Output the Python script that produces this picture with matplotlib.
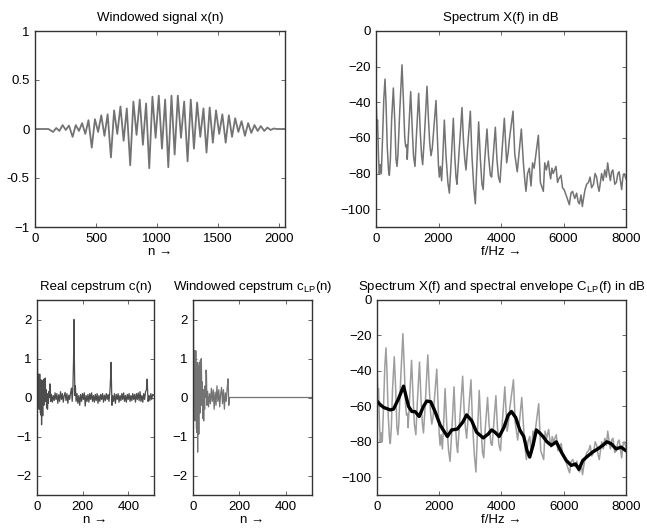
import numpy as np
import matplotlib
matplotlib.use("Agg")
import matplotlib.pyplot as plt

plt.rcParams['font.family'] = ['Liberation Sans', 'DejaVu Sans']
plt.rcParams['mathtext.default'] = 'regular'
plt.rcParams['font.size'] = 9.5

# ---------------- data ----------------
# windowed signal: extrema (n, x)
sig_n = [0, 110,
         148, 174, 200, 226, 252, 278,
         308, 334, 360, 386, 412, 438,
         465, 491, 517, 543, 569, 595,
         622, 648, 674, 700, 726, 752,
         780, 806, 832, 858, 884, 910,
         936, 962, 988, 1014, 1040, 1066,
         1092, 1118, 1144, 1170, 1196, 1222,
         1250, 1276, 1302, 1328, 1354, 1380,
         1405, 1431, 1457, 1483, 1509, 1535,
         1562, 1588, 1614, 1640, 1666, 1692,
         1720, 1746, 1772, 1798, 1824, 1850,
         1878, 1904, 1930, 1956, 1980, 2048]
sig_x = [0, 0,
         -0.03, 0.01, -0.02, 0.04, -0.01, 0.035,
         -0.08, 0.04, -0.02, 0.06, -0.05, 0.09,
         -0.19, 0.10, -0.03, 0.14, -0.07, 0.15,
         -0.29, 0.19, -0.05, 0.23, -0.12, 0.21,
         -0.37, 0.28, -0.06, 0.30, -0.16, 0.26,
         -0.40, 0.33, -0.09, 0.34, -0.20, 0.30,
         -0.39, 0.34, -0.26, 0.34, -0.09, 0.28,
         -0.33, 0.30, -0.20, 0.27, -0.08, 0.21,
         -0.24, 0.22, -0.14, 0.19, -0.05, 0.15,
         -0.14, 0.14, -0.08, 0.11, -0.03, 0.08,
         -0.07, 0.06, -0.04, 0.04, -0.02, 0.03,
         -0.02, 0.015, -0.01, 0.005, 0, 0]

# magnitude spectrum in dB
spec_f = [0, 25, 50, 80, 105, 140, 170, 210, 250, 288, 320, 360, 400, 427, 460, 500,
          555, 600, 640, 672, 700, 760, 832, 880, 920, 950, 985, 1000, 1050, 1110,
          1160, 1200, 1248, 1290, 1365, 1420, 1460, 1493, 1540, 1632, 1680, 1720,
          1760, 1800, 1850, 1920, 1970, 2000, 2027, 2060, 2100, 2140, 2187, 2240,
          2300, 2347, 2400, 2475, 2520, 2560, 2590, 2650, 2752, 2800, 2840, 2880,
          2920, 3019, 3070, 3130, 3179, 3220, 3285, 3340, 3390, 3430, 3480, 3552,
          3600, 3660, 3700, 3750, 3819, 3870, 3920, 3968, 4030, 4107, 4181, 4230,
          4267, 4384, 4440, 4480, 4520, 4651, 4720, 4768, 4800, 4850, 4907, 4960,
          5010, 5060, 5195, 5260, 5355, 5400, 5450, 5515, 5560, 5590, 5630, 5670,
          5760, 5810, 5850, 5920, 5970, 6020, 6101, 6187, 6240, 6290, 6360, 6420,
          6470, 6510, 6560, 6603, 6650, 6690, 6740, 6800, 6850, 6900, 6960, 7010,
          7060, 7100, 7140, 7220, 7270, 7320, 7370, 7413, 7460, 7500, 7540, 7580,
          7640, 7690, 7740, 7780, 7820, 7861, 7900, 7940, 8000]
spec_db = [-36, -52, -50, -70, -80, -75, -80, -60, -38, -27, -40, -65, -78, -81, -72, -50,
           -32, -50, -72, -76, -70, -45, -19, -40, -60, -65, -64, -72, -55, -34,
           -55, -70, -76, -60, -35, -58, -70, -75, -62, -31, -50, -63,
           -70, -66, -55, -39, -62, -76, -82, -76, -84, -70, -50, -70,
           -85, -91, -75, -49, -70, -82, -86, -70, -43, -62, -72, -78,
           -68, -45, -70, -88, -97, -78, -51, -72, -86, -89, -72, -55,
           -70, -81, -82, -70, -54, -72, -82, -85, -68, -49, -74, -68,
           -61, -45, -69, -74, -79, -55, -75, -85, -90, -80, -77, -87,
           -74, -77, -58.5, -85, -90, -74, -78, -73, -80, -83, -77, -80,
           -76, -85, -83, -81, -88, -89, -93, -97.5, -91, -90, -94, -91,
           -96, -97, -92, -98.5, -93, -89, -86, -85, -82, -88, -86, -80,
           -82, -87, -90, -80, -84, -78, -82, -74, -80, -84, -79, -78,
           -86, -85, -80, -79, -84, -89, -82, -80, -83]

# real cepstrum c(n): (n, value)
cep_n = [0, 1, 2, 3, 4, 5, 6, 7, 8, 9, 10, 11, 12, 13, 14, 15, 16, 17, 18, 19, 20,
         21, 22, 23, 24, 25, 26, 27, 28, 29, 30, 32, 34, 36, 38, 40, 42, 44, 46, 48,
         50, 52, 54, 56, 58, 60, 63, 67, 71, 75, 79, 83, 87, 91, 95, 99, 103, 107,
         111, 115, 119, 123, 127, 131, 135, 139, 143, 147, 151, 154, 157, 160, 162,
         164, 166, 168, 171, 175, 179, 183, 187, 191, 195, 199, 203, 207, 211, 215,
         219, 223, 227, 231, 235, 239, 243, 247, 251, 255, 259, 263, 267, 271, 275,
         279, 283, 287, 291, 295, 299, 303, 307, 311, 315, 319, 322, 324, 326, 328,
         331, 335, 339, 343, 347, 351, 355, 359, 363, 367, 371, 375, 379, 383, 387,
         391, 395, 399, 403, 407, 411, 415, 419, 423, 427, 431, 435, 439, 443, 447,
         451, 455, 459, 463, 467, 471, 475, 479, 482, 484, 486, 490, 494, 498, 502,
         506, 510, 512]
cep_v = [-8.0, 3.0, 1.4, -0.1, 0.5, 0.1, 0.6, -0.05, 0.4, -0.3, 0.55, 0.0, 0.6, -0.2,
         0.35, -0.4, 0.2, -0.45, 0.45, -0.2, -0.7,
         0.1, -0.3, 0.4, -0.1, -0.47, 0.2, 0.45, -0.1, 0.25, -0.2, 0.48, 0.1, 0.5,
         -0.1, 0.2, -0.27, 0.1, -0.3, 0.05,
         -0.15, 0.15, 0.0, 0.35, 0.3, -0.1, 0.08, -0.12, 0.05, -0.08, 0.12, -0.05,
         0.1, -0.15, 0.07, -0.1, 0.15, -0.05,
         0.1, -0.12, 0.05, 0.13, -0.08, 0.1, -0.15, 0.06, -0.05, 0.12, 0.24, -0.1,
         0.2, 1.0, 2.0,
         0.8, 0.05, 0.3, -0.1, 0.1, -0.15, 0.05, -0.2, 0.08, -0.1, 0.1, -0.05, 0.12,
         -0.22, 0.05,
         -0.1, 0.08, -0.12, 0.1, -0.05, 0.12, -0.1, 0.05, -0.12, 0.08, -0.08, 0.1,
         -0.15, 0.05, -0.1,
         0.08, -0.05, 0.1, -0.12, 0.06, -0.08, 0.1, -0.05, 0.08, -0.1, 0.15, 0.5,
         0.9, 0.3, -0.2,
         0.05, -0.1, 0.1, -0.15, 0.08, -0.05, 0.1, -0.12, 0.05, -0.08, 0.1, -0.05,
         0.12, -0.1, 0.05,
         -0.12, 0.08, -0.05, 0.1, -0.1, 0.05, -0.08, 0.1, -0.05, 0.08, -0.12, 0.1,
         -0.05, 0.12, -0.08,
         0.15, -0.1, 0.05, -0.12, 0.1, -0.05, 0.15, 0.2, 0.47, 0.2, -0.1, 0.05,
         -0.08, 0.1, -0.05,
         0.08, 0.05, 0.05]

# low-pass lifter: weight 1 at n=0, 2 below the cut-off, 0 above
lifter_cut = 155

# spectral envelope C_LP(f) in dB
env_f = [0, 100, 213, 427, 533, 693, 853, 1013, 1120, 1227, 1355, 1493, 1600, 1728,
         1867, 2027, 2261, 2400, 2581, 2752, 2880, 3040, 3200, 3413, 3573, 3680,
         3787, 3925, 4075, 4213, 4320, 4459, 4587, 4715, 4821, 4907, 5013, 5120,
         5227, 5333, 5461, 5600, 5760, 5920, 6080, 6240, 6379, 6485, 6613, 6773,
         6933, 7093, 7253, 7381, 7520, 7680, 7840, 8000]
env_db = [-57, -59, -60.6, -62, -61.5, -55.6, -48.6, -60, -62.9, -63, -65.7, -60, -57,
          -57.4, -63, -70.5, -77, -73.3, -72.8, -69, -64.8, -68, -74.6, -77.8, -75.6,
          -73.3, -74.5, -77, -72, -65, -62.9, -66.4, -73.3, -77, -85, -88.6, -82,
          -73.3, -75, -77, -80, -82, -80, -85.7, -90.5, -93.3, -92.5, -95.5, -90.5,
          -88, -85.7, -84, -82, -80, -81, -84, -83, -85]

# ---------------- figure ----------------
W, H = 647, 531
fig = plt.figure(figsize=(W / 100, H / 100), dpi=100)

def box(l, t, w, h):
    return [l / W, 1 - (t + h) / H, w / W, h / H]

def style(ax):
    ax.tick_params(direction='in', top=True, right=True, length=3, width=0.6,
                   color='0.3', labelsize=9.5, pad=4)
    for s in ax.spines.values():
        s.set_color('0.2')
        s.set_linewidth(1.0)

ax1 = fig.add_axes(box(35, 31, 250, 196))
ax2 = fig.add_axes(box(376, 31, 250, 196))
ax3 = fig.add_axes(box(37, 300, 117, 195))
ax4 = fig.add_axes(box(193, 300, 119, 195))
ax5 = fig.add_axes(box(377, 300, 249, 195))

# windowed signal
ax1.plot(sig_n, sig_x, color='0.45', lw=1.3)
ax1.set_xlim(0, 2048)
ax1.set_ylim(-1, 1)
ax1.set_xticks([0, 500, 1000, 1500, 2000])
ax1.set_yticks([-1, -0.5, 0, 0.5, 1])
ax1.set_yticklabels(['\u22121', '-0.5', '0', '0.5', '1'])
ax1.set_title('Windowed signal x(n)', fontsize=9.5, pad=7)
ax1.set_xlabel('n \u2192', fontsize=9.5, labelpad=1)

# spectrum
for ax, col in ((ax2, '0.45'), (ax5, '0.62')):
    ax.plot(spec_f, spec_db, color=col, lw=1.1)
    ax.set_xlim(0, 8000)
    ax.set_ylim(-110, 0)
    ax.set_xticks([0, 2000, 4000, 6000, 8000])
    ax.set_yticks([-100, -80, -60, -40, -20, 0])
    ax.set_xlabel('f/Hz \u2192', fontsize=9.5, labelpad=1)
ax2.set_title('Spectrum X(f) in dB', fontsize=9.5, pad=7)
ax5.plot(env_f, env_db, color='black', lw=2.4)
ax5.set_title('Spectrum X(f) and spectral envelope C$_{LP}$(f) in dB', fontsize=9.5, pad=7)

# cepstra
cn = np.array(cep_n)
cv = np.array(cep_v)
w = np.where(cn == 0, 1.0, np.where(cn < lifter_cut, 2.0, 0.0))
clp = cv * w
ax3.plot(cn, cv, color='0.3', lw=0.9)
ax4.plot(cn, clp, color='0.45', lw=0.9)
for ax in (ax3, ax4):
    ax.set_xlim(0, 512)
    ax.set_ylim(-2.5, 2.5)
    ax.set_xticks([0, 200, 400])
    ax.set_yticks([-2, -1, 0, 1, 2])
    ax.set_xlabel('n \u2192', fontsize=9.5, labelpad=1)
ax3.set_title('Real cepstrum c(n)', fontsize=9.5, pad=7)
ax4.set_title('Windowed cepstrum c$_{LP}$(n)', fontsize=9.5, pad=7)

for ax in (ax1, ax2, ax3, ax4, ax5):
    style(ax)

fig.savefig('out.png', dpi=100)
